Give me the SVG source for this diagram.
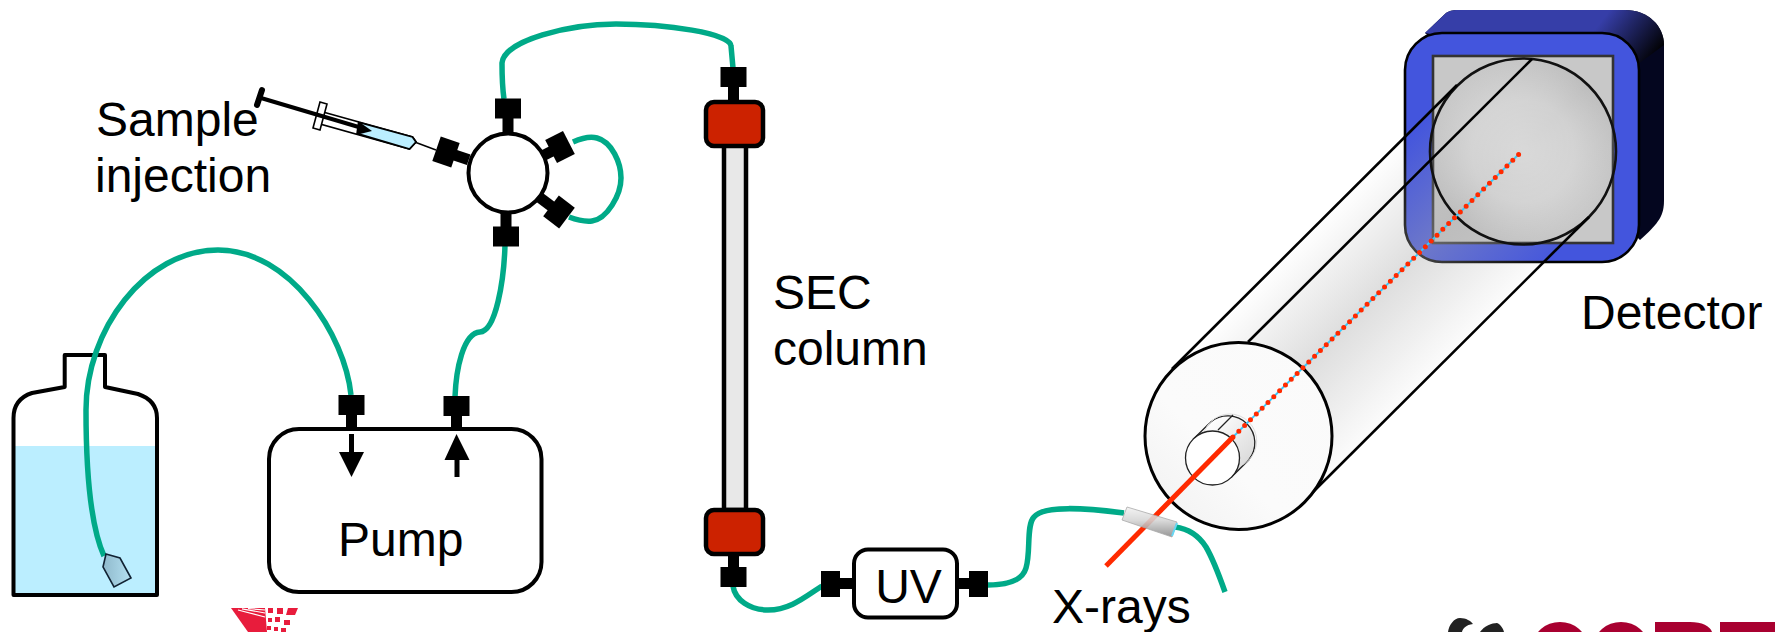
<svg xmlns="http://www.w3.org/2000/svg" xmlns:xlink="http://www.w3.org/1999/xlink" width="1775" height="632" viewBox="0 0 1775 632">
<style>
text{font-family:"Liberation Sans",Arial,sans-serif;font-size:48px;fill:#000}
.tube{fill:none;stroke:#00aa88;stroke-width:5.500;stroke-linecap:butt}
.box{fill:#fff;stroke:#000;stroke-width:4}
.red{fill:#cc2200;stroke:#000;stroke-width:4.500}
.ln{fill:none;stroke:#000;stroke-width:2.600}
.thin{fill:none;stroke:#222;stroke-width:1.300}
</style>
<defs>
<g id="fit"><rect x="-13" y="-10" width="26" height="20"/><rect x="-5.500" y="9" width="11" height="15"/></g>
<linearGradient id="cyl" gradientUnits="userSpaceOnUse" x1="1172" y1="369" x2="1304" y2="501">
<stop offset="0" stop-color="#acacac" stop-opacity="0"/><stop offset=".5" stop-color="#acacac" stop-opacity=".4"/><stop offset="1" stop-color="#acacac" stop-opacity=".04"/>
</linearGradient>
<linearGradient id="face" x1="0" y1="1" x2="1" y2="0"><stop offset="0" stop-color="#f0f0f0"/><stop offset=".4" stop-color="#fbfbfb"/><stop offset="1" stop-color="#fafafa"/></linearGradient>
<radialGradient id="disc"><stop offset="0" stop-color="#fff" stop-opacity=".42"/><stop offset=".55" stop-color="#fff" stop-opacity=".3"/><stop offset="1" stop-color="#fff" stop-opacity="0"/></radialGradient>
<linearGradient id="corner" gradientUnits="userSpaceOnUse" x1="1610" y1="10" x2="1662" y2="50"><stop offset="0" stop-color="#363ea8"/><stop offset="1" stop-color="#000"/></linearGradient>
<linearGradient id="cap" x1="0" y1="0" x2="0" y2="1"><stop offset="0" stop-color="#f2f2f2"/><stop offset=".45" stop-color="#d4d4d4"/><stop offset="1" stop-color="#888"/></linearGradient>
<linearGradient id="frit" x1="0" y1="0" x2="1" y2="0"><stop offset="0" stop-color="#8fb9cc"/><stop offset="1" stop-color="#b4e0f0"/></linearGradient>
<linearGradient id="hole" gradientUnits="userSpaceOnUse" x1="1202" y1="430" x2="1240" y2="468"><stop offset="0" stop-color="#fff"/><stop offset="1" stop-color="#dcdcdc"/></linearGradient>
</defs>

<g id="bottle">
<rect x="14" y="446" width="143" height="149" fill="#bbeeff"/>
<path d="M13.500,595 V418 C13.500,405 20,397 32,393 L64.700,387 V355 H105 V387 L138,394 C150,398 157,405 157,418 V595 Z" fill="none" stroke="#000" stroke-width="4" stroke-linejoin="round"/>
</g>

<g id="connectors">
<path class="tube" d="M351,395 C345,335 290,250 218,250 C145,250 86,330 86,410 C86,470 90,525 104,556"/>
<path class="tube" d="M455,397 C456,370 463,333 480,332 C496,331 504,280 505,245"/>
<path class="tube" d="M504,99 C502,85 502,75 502,63 C504,40 570,24 616,24 C665,24 731,33 731,46 L733,68"/>
<path class="tube" d="M573,142 C582,138 590,136 597,138 C612,142 621,163 621,178 C621,195 607,219 592,221 C584,222 577,220 569,217"/>
<path class="tube" d="M733,586 C735,600 750,610 768,610 C790,610 805,597 822,586"/>
<path class="tube" d="M988,585 C1005,585 1022,582 1026,568 C1031,552 1026,525 1034,517 C1044,505 1085,508 1124,513"/>
<path class="tube" d="M1175,527 C1190,529 1199,536 1206,547 C1213,559 1219,575 1225,592"/>
</g>

<g id="frit"><polygon points="106,554 120,558 131,578 114,587 103,567" fill="url(#frit)" stroke="#123" stroke-width="1.600"/></g>

<g id="pump">
<rect class="box" x="269" y="429" width="272.500" height="163" rx="30"/>
<use xlink:href="#fit" href="#fit" x="351.500" y="405"/>
<use xlink:href="#fit" href="#fit" x="456.500" y="406"/>
<path d="M349,434 h5 v18 h10 l-12.500,25 l-12.500,-25 h10 z"/>
<path d="M456.500,434 l13,26 h-10 v17 h-5 v-17 h-10 z"/>
<text x="338" y="556">Pump</text>
</g>

<g id="syringe">
<path d="M436,150 L412,141" stroke="#000" stroke-width="1.600" fill="none"/>
<polygon points="323,112 412.500,137 416,142 409.500,149 316.500,123" fill="#fff" stroke="#000" stroke-width="1.800"/>
<polygon points="361,123 412.500,137 416,142 409.500,149 359,134" fill="#bbeeff" stroke="#000" stroke-width="1.800"/>
<polygon points="320,102 327,104 320,130 313,128" fill="#fff" stroke="#000" stroke-width="1.600"/>
<path d="M261,98 L362,128" stroke="#000" stroke-width="4" fill="none"/>
<polygon points="358,121 372,131 356,135"/>
<path d="M262,90 L257,105" stroke="#000" stroke-width="6" stroke-linecap="round" fill="none"/>
</g>

<g id="valve">
<use xlink:href="#fit" href="#fit" transform="translate(508,108.500)"/>
<use xlink:href="#fit" href="#fit" transform="translate(506,236.500) rotate(180)"/>
<use xlink:href="#fit" href="#fit" transform="translate(446,152) rotate(-71)"/>
<use xlink:href="#fit" href="#fit" transform="translate(560,147) rotate(63)"/>
<use xlink:href="#fit" href="#fit" transform="translate(559,212) rotate(127)"/>
<circle cx="508" cy="173" r="39.500" fill="#fff" stroke="#000" stroke-width="4"/>
</g>

<g id="column">
<rect x="724" y="144" width="22" height="366" fill="#e8e8e8" stroke="#000" stroke-width="4.500"/>
<use xlink:href="#fit" href="#fit" x="733.500" y="77"/>
<rect class="red" x="706" y="102" width="57" height="44" rx="8"/>
<rect class="red" x="706" y="510" width="57" height="44" rx="8"/>
<use xlink:href="#fit" href="#fit" transform="translate(733.500,577) rotate(180)"/>
</g>

<g id="uv">
<rect x="821" y="571" width="19" height="26"/><rect x="838" y="578" width="16" height="11"/>
<rect x="969" y="571" width="19" height="26"/><rect x="956" y="578" width="15" height="11"/>
<rect class="box" x="854" y="549.500" width="103" height="68" rx="14"/>
<text x="908.500" y="603" text-anchor="middle">UV</text>
</g>

<g id="detector">
<path d="M1425,33 L1446,13 C1449,11 1452,10 1458,10 H1625 C1648,10 1664,26 1664,45 V200 C1664,215 1660,222 1640,240 Z" fill="#04061f"/>
<path d="M1425,33 L1446,13 C1449,11 1452,10 1458,10 H1625 C1648,10 1664,26 1664,45 L1630,70 Z" fill="url(#corner)"/>
<rect x="1405" y="33" width="234" height="229" rx="37" fill="#4355dd" stroke="#000" stroke-width="2.600"/>
<rect x="1433" y="56" width="180" height="187" fill="#c8c8c8" stroke="#333" stroke-width="2.600"/>
</g>

<g id="cylinder">
<path d="M1172,369 L1457,85 A93,93 0 0 1 1589,217 L1304,501 Z" fill="url(#cyl)"/>
<circle cx="1523" cy="151.500" r="93" fill="url(#disc)" stroke="#111" stroke-width="2.600"/>
<path class="ln" d="M1172,369 L1457,85"/><path class="ln" d="M1248,342 L1532,59"/><path class="ln" d="M1304,501 L1589,217"/>
<circle cx="1238.500" cy="436" r="93.500" fill="url(#face)" stroke="#000" stroke-width="3"/>
<path d="M1193.500,439 L1210.700,422 A27,27 0 0 1 1248.700,460 L1231.500,477 Z" fill="url(#hole)" stroke="#222" stroke-width="1.300"/>
<circle cx="1229.700" cy="441" r="27" fill="none" stroke="#ddd" stroke-width="1"/>
<circle cx="1212.500" cy="458" r="27" fill="#fff" stroke="#222" stroke-width="1.300"/>
<path class="thin" d="M1218,430 L1233,415"/>
</g>

<g id="beam">
<path d="M1233,437 L1520,153" stroke="#33ccff" stroke-width="1.800" fill="none"/>
<path d="M1233,437 L1520,153" stroke="#ff2a00" stroke-width="5" stroke-linecap="round" stroke-dasharray="0 8.200" fill="none"/>
<path d="M1106,566 L1233,437" stroke="#ff2a00" stroke-width="5" fill="none"/>
</g>

<g id="capillary">
<polygon points="1127,507 1177,522 1172,537 1122,520" fill="url(#cap)" fill-opacity=".88" stroke="#aaa" stroke-width=".8"/>
<path d="M1177,523 L1172,536" stroke="#66d8f5" stroke-width="2" fill="none"/>
</g>

<g id="labels">
<text x="96" y="136">Sample</text>
<text x="95" y="192">injection</text>
<text x="773" y="309">SEC</text>
<text x="773" y="365">column</text>
<text x="1581" y="329">Detector</text>
<text x="1052" y="623">X-rays</text>
</g>

<g id="logo-left" fill="#e81c3c">
<polygon points="231,608 265,608 267,632 248,632"/>
<path d="M238,610 L265,617 M242,608.800 L265,613 M248,608.500 L265,610" stroke="#fff" stroke-width="1.200" fill="none"/>
<rect x="268" y="608" width="5" height="5"/><rect x="277" y="608" width="6" height="6"/><polygon points="288,608 298,608 295,615 286,615"/>
<rect x="268" y="618" width="4" height="4"/><rect x="275" y="617" width="5" height="5"/><rect x="284" y="620" width="6" height="5"/>
<rect x="267" y="626" width="4" height="4"/><rect x="274" y="627" width="4" height="4"/><rect x="281" y="628" width="5" height="4"/>
</g>
<g id="logo-right">
<path d="M1448,632 C1449,625 1454,618 1460,618 C1466,618 1471,621 1473,624 C1466,625 1463,628 1462,632 Z" fill="#222"/>
<path d="M1480,632 C1484,626 1492,623 1497,623 C1500,624 1503,628 1504,632 Z" fill="#222"/>
<g fill="#a80030">
<ellipse cx="1560" cy="646" rx="27" ry="24"/>
<ellipse cx="1621" cy="646" rx="27" ry="24"/>
<path d="M1655,632 V622 H1690 C1702,622 1710,626 1712,632 Z"/>
<path d="M1720,632 V622 H1775 V632 Z"/>
</g>
</g>
</svg>
